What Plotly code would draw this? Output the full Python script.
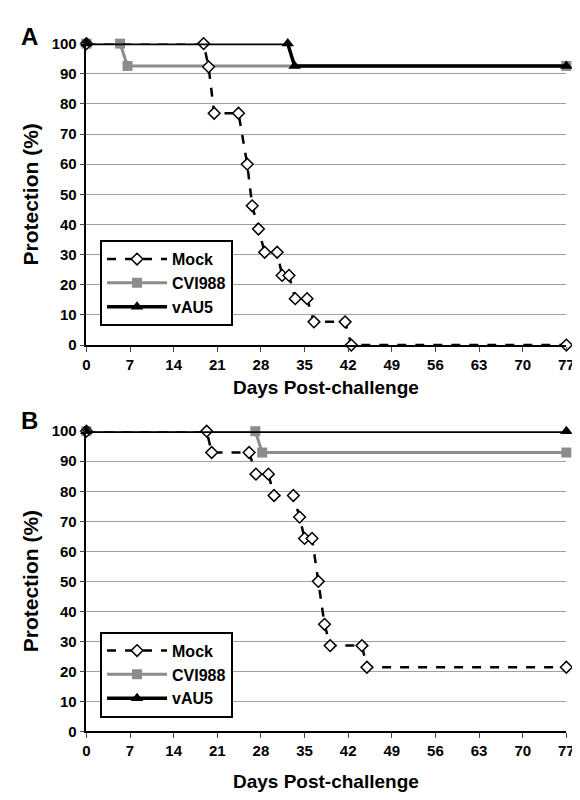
import plotly.graph_objects as go

# Panel A
a_mock_day = [0, 18.8, 19.6, 20.5, 24.4, 25.8, 26.6, 27.6, 28.6, 30.6, 31.4, 32.5, 33.5, 35.4, 36.5, 41.5, 42.5, 77]
a_mock_pct = [100, 100, 92.3, 76.9, 76.9, 60, 46.2, 38.5, 30.8, 30.8, 23.1, 23.1, 15.4, 15.4, 7.7, 7.7, 0, 0]
a_cvi_day = [0, 5.4, 6.6, 77]
a_cvi_pct = [100, 100, 92.6, 92.6]
a_vau_day = [0, 32.3, 33.4, 77]
a_vau_pct = [100, 100, 92.6, 92.6]

# Panel B
b_mock_day = [0, 19.3, 20.1, 26.1, 27.2, 29.2, 30.1, 33.2, 34.2, 35.0, 36.2, 37.2, 38.2, 39.1, 44.2, 45.0, 77]
b_mock_pct = [100, 100, 92.9, 92.9, 85.7, 85.7, 78.6, 78.6, 71.4, 64.3, 64.3, 50, 35.7, 28.6, 28.6, 21.4, 21.4]
b_cvi_day = [0, 27.1, 28.2, 77]
b_cvi_pct = [100, 100, 92.9, 92.9]
b_vau_day = [0, 77]
b_vau_pct = [100, 100]

x_ticks = list(range(0, 78, 7))
y_ticks = list(range(0, 101, 10))

fig = go.Figure()


def add_panel(mock, cvi, vau, xa, ya, leg):
    cvi_x, cvi_y = cvi
    vau_x, vau_y = vau
    fig.add_trace(go.Scatter(x=cvi_x, y=cvi_y, name='CVI988', mode='lines+markers',
                             line=dict(color='#8c8c8c', width=3),
                             marker=dict(symbol='square', size=10, color='#8c8c8c'),
                             xaxis=xa, yaxis=ya, legend=leg, cliponaxis=False, legendrank=2))
    fig.add_trace(go.Scatter(x=mock[0], y=mock[1], name='Mock', mode='lines+markers',
                             line=dict(color='black', width=2.5, dash='dash'),
                             marker=dict(symbol='diamond', size=9, color='white',
                                         line=dict(color='black', width=1.5)),
                             xaxis=xa, yaxis=ya, legend=leg, cliponaxis=False, legendrank=1))
    fig.add_trace(go.Scatter(x=vau_x, y=vau_y, name='vAU5', mode='lines+markers',
                             line=dict(color='black', width=3.5),
                             marker=dict(symbol='triangle-up', size=11, color='black'),
                             xaxis=xa, yaxis=ya, legend=leg, cliponaxis=False, legendrank=3))


add_panel((a_mock_day, a_mock_pct), (a_cvi_day, a_cvi_pct), (a_vau_day, a_vau_pct), 'x', 'y', 'legend')
add_panel((b_mock_day, b_mock_pct), (b_cvi_day, b_cvi_pct), (b_vau_day, b_vau_pct), 'x2', 'y2', 'legend2')

font = dict(family='Liberation Sans, Arial', color='black')
xax = dict(range=[0, 77], tickvals=x_ticks, showgrid=False, zeroline=False,
           showline=True, linecolor='black', linewidth=1.5, ticks='outside', ticklen=5,
           tickfont=dict(size=15, family='Liberation Sans', color='black', weight='bold'))
yax = dict(range=[0, 100], tickvals=y_ticks, showgrid=True, gridcolor='#a0a0a0', gridwidth=1,
           zeroline=False, showline=True, linecolor='black', linewidth=1.5, ticks='outside', ticklen=5,
           tickfont=dict(size=15, family='Liberation Sans', color='black', weight='bold'))

leg_style = dict(bordercolor='black', borderwidth=2, bgcolor='white',
                 font=dict(size=16, family='Liberation Sans', color='black', weight='bold'),
                 itemwidth=60, tracegroupgap=4, xanchor='left', yanchor='top')

fig.update_layout(
    width=580, height=800, margin=dict(l=0, r=0, t=0, b=0),
    plot_bgcolor='white', paper_bgcolor='white', font=font,
    xaxis=dict(domain=[0.131, 0.976], anchor='y', **xax),
    yaxis=dict(domain=[0.581, 0.966], anchor='x', **yax),
    xaxis2=dict(domain=[0.131, 0.976], anchor='y2', **xax),
    yaxis2=dict(domain=[0.0875, 0.471], anchor='x2', **yax),
    legend=dict(x=0.155, y=0.715, **leg_style),
    legend2=dict(x=0.155, y=0.215, **leg_style),
    annotations=[
        dict(text='<b>A</b>', x=0.012, y=0.995, xref='paper', yref='paper', showarrow=False,
             xanchor='left', yanchor='top', font=dict(size=24, family='Liberation Sans')),
        dict(text='<b>B</b>', x=0.012, y=0.505, xref='paper', yref='paper', showarrow=False,
             xanchor='left', yanchor='top', font=dict(size=24, family='Liberation Sans')),
        dict(text='<b>Protection (%)</b>', x=0.033, y=0.773, xref='paper', yref='paper', showarrow=False,
             xanchor='center', yanchor='middle', textangle=-90, font=dict(size=21, family='Liberation Sans')),
        dict(text='<b>Protection (%)</b>', x=0.033, y=0.279, xref='paper', yref='paper', showarrow=False,
             xanchor='center', yanchor='middle', textangle=-90, font=dict(size=21, family='Liberation Sans')),
        dict(text='<b>Days Post-challenge</b>', x=0.553, y=0.527, xref='paper', yref='paper', showarrow=False,
             xanchor='center', yanchor='middle', font=dict(size=19, family='Liberation Sans')),
        dict(text='<b>Days Post-challenge</b>', x=0.553, y=0.024, xref='paper', yref='paper', showarrow=False,
             xanchor='center', yanchor='middle', font=dict(size=19, family='Liberation Sans')),
    ],
)

fig.write_html("out.html")
